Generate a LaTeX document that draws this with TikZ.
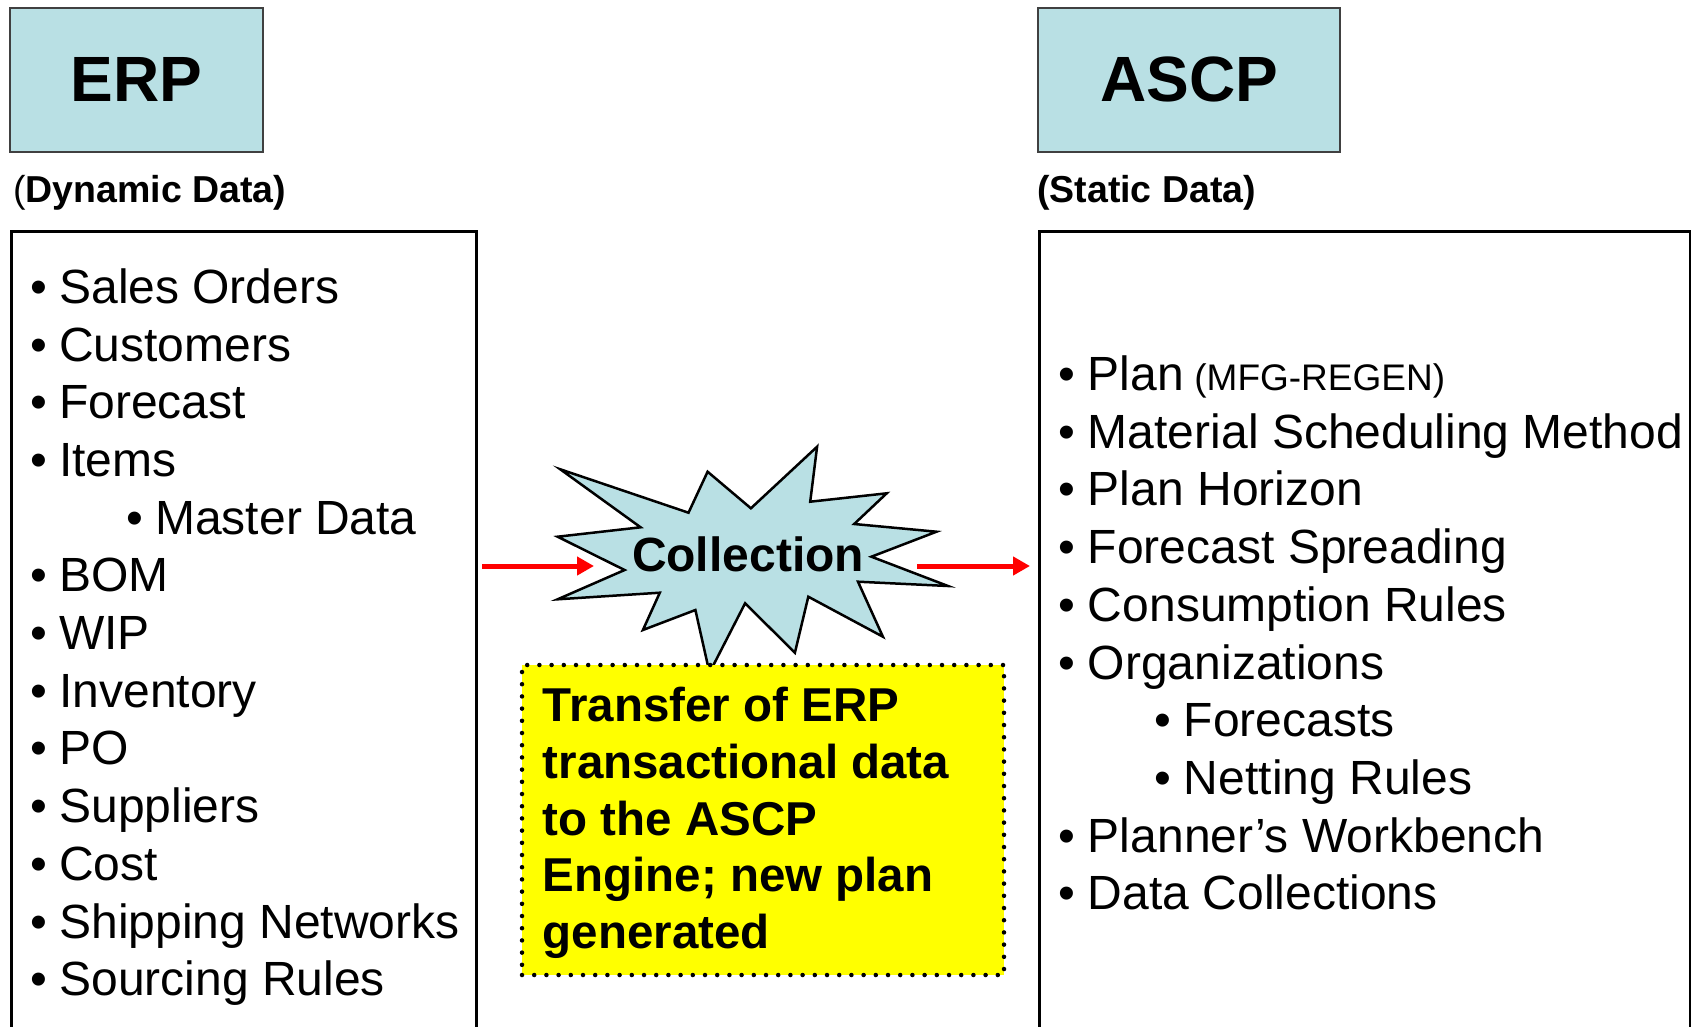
\documentclass[tikz,border=0pt]{standalone}
\usepackage{fontspec}
\setmainfont{Liberation Sans}
\usetikzlibrary{arrows.meta}
\usetikzlibrary{positioning}

\definecolor{sysblue}{RGB}{185,224,228}
\definecolor{noteyellow}{RGB}{255,255,0}
\newcommand{\mfgnote}{{\fontsize{37}{40}\selectfont\ (MFG-REGEN)}}

\tikzset{
  sysbox/.style={draw=black!75, line width=2pt, fill=sysblue, minimum height=144pt,
    inner sep=0pt, font=\bfseries\fontsize{64}{70}\selectfont},
  datalabel/.style={anchor=base west, inner sep=0pt, font=\fontsize{37.5}{40}\selectfont},
  listbox/.style={draw, line width=2.5pt, anchor=north west, inner sep=0pt},
  listitem/.style={anchor=base west, inner sep=0pt, font=\fontsize{48}{58}\selectfont},
  noteline/.style={anchor=base west, inner sep=0pt, font=\bfseries\fontsize{47.5}{56}\selectfont},
  flow/.style={red, line width=5pt, -{Triangle[length=17pt,width=18pt]}},
}

\begin{document}
\begin{tikzpicture}[x=1pt, y=-1pt]
        \useasboundingbox (0,0) rectangle (1691,1026);
        \clip (0,0) rectangle (1691,1026);

        % systems
        \node[sysbox, minimum width=253pt] (erp) at (136.5,79.5) {ERP};
        \node[sysbox, minimum width=302pt] (ascp) at (1189,79.5) {ASCP};
        \node[datalabel] (dynamic) at (13,202) {(\textbf{Dynamic Data)}};
        \node[datalabel] (static) at (1037,202) {\textbf{(Static Data)}};

        % data lists
        \node[listbox, minimum width=465pt, minimum height=800pt] (erplist) at (10,230) {};
        \node[listbox, minimum width=651pt, minimum height=800pt] (ascplist) at (1038,230) {};

        \foreach \n/\ind/\txt in {0/0/Sales Orders, 1/0/Customers, 2/0/Forecast, 3/0/Items,
            4/1/Master Data, 5/0/BOM, 6/0/WIP, 7/0/Inventory, 8/0/PO, 9/0/Suppliers,
            10/0/Cost, 11/0/Shipping Networks, 12/0/Sourcing Rules}
          \node[listitem] (erpitem\n) at (30.3+96*\ind, 303.3+57.7*\n) {•\hspace{12pt}\txt};

        \foreach \n/\ind/\txt in {0/0/{Plan\mfgnote}, 1/0/Material Scheduling Method,
            2/0/Plan Horizon, 3/0/Forecast Spreading, 4/0/Consumption Rules,
            5/0/Organizations, 6/1/Forecasts, 7/1/Netting Rules,
            8/0/Planner’s Workbench, 9/0/Data Collections}
          \node[listitem] (ascpitem\n) at (1058+96*\ind, 390.5+57.7*\n) {•\hspace{13pt}\txt};

        % collection burst
        \draw[line width=2.5pt, fill=sysblue]
          (560.3,469.3) -- (688.5,512.7) -- (707.6,471.7) -- (750.9,508.3)
          -- (817.1,446.7) -- (810.2,501.7) -- (886.7,493.3) -- (854.2,524)
          -- (936.5,531.7) -- (871.4,556.7) -- (948,586) -- (858,581.7)
          -- (882.9,636.7) -- (808.3,596.7) -- (794.9,652.7) -- (745.1,603.3)
          -- (709.5,672.7) -- (695.4,610) -- (642.9,630) -- (659.8,592.7)
          -- (557.6,599.3) -- (624.6,570) -- (557.6,536.7) -- (640.6,527.3) -- cycle;
        \node[anchor=base, inner sep=0pt, font=\bfseries\fontsize{48}{52}\selectfont] (coll) at (748,571.7) {Collection};

        % note
        \node[fill=noteyellow, draw, line width=4.5pt, line cap=round, dash pattern=on 0pt off 12.2pt,
          minimum width=482pt, minimum height=310pt, inner sep=0pt] (note) at (763,820) {};
        \foreach \n/\txt in {0/Transfer of ERP, 1/transactional data, 2/to the ASCP,
            3/Engine; new plan, 4/generated}
          \node[noteline] (noteline\n) at (542.5, 721.7+56.7*\n) {\txt};

        % flow
        \coordinate (erpout) at (482,566);
        \coordinate (collin) at (594,566);
        \coordinate (collout) at (917,566);
        \coordinate (ascpin) at (1030,566);
        \draw[flow] (erpout) -- (collin);
        \draw[flow] (collout) -- (ascpin);
      \end{tikzpicture}
\end{document}
